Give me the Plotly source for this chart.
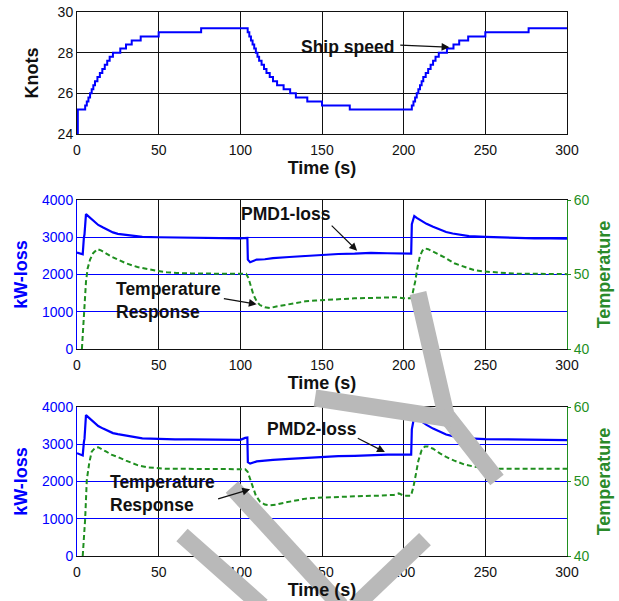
import plotly.graph_objects as go

# ---------------- data ----------------
speed = [(0, 24.0), (0.5, 25.2), (5, 25.4), (6, 25.6), (7, 25.8), (8, 26.0), (9, 26.2), (10, 26.4),
         (11, 26.6), (12.5, 26.8), (14, 27.0), (15.5, 27.2), (17, 27.4), (18.5, 27.6), (20, 27.8),
         (22, 28.0), (26.5, 28.2), (30, 28.4), (33.5, 28.6), (39, 28.8), (50, 29.0), (76, 29.2),
         (104.5, 29.0), (105.5, 28.8), (106.5, 28.6), (107.5, 28.4), (108.5, 28.2), (109.5, 28.0),
         (110.5, 27.8), (111.5, 27.6), (113, 27.4), (114.5, 27.2), (116, 27.0), (118, 26.8), (120, 26.6),
         (122.5, 26.4), (126.5, 26.2), (130.5, 26.0), (134, 25.8), (141, 25.6), (150, 25.4), (167, 25.2),
         (205, 25.4), (206, 25.6), (207, 25.8), (208, 26.0), (209, 26.2), (210, 26.4), (211, 26.6),
         (212, 26.8), (213.5, 27.0), (215, 27.2), (216.5, 27.4), (218, 27.6), (219.5, 27.8), (221.5, 28.0),
         (226.5, 28.2), (230.5, 28.4), (234, 28.6), (239.5, 28.8), (250, 29.0), (276.5, 29.2), (300, 29.2)]

pmd1_loss = [(0, 2590), (2, 2560), (3.5, 2540), (4.2, 2980), (4.6, 3080), (5.5, 3620), (7, 3560), (9, 3480),
             (11, 3400), (13, 3330), (16, 3260), (19, 3190), (22, 3130), (25, 3090), (30, 3060), (35, 3030),
             (40, 3010), (50, 3000), (60, 2990), (70, 2990), (80, 2980), (90, 2980), (100, 2970), (104.3, 2980),
             (104.6, 2400), (106, 2330), (110, 2400), (115, 2410), (120, 2440), (130, 2470), (140, 2500),
             (150, 2530), (160, 2550), (170, 2560), (180, 2580), (190, 2570), (200, 2560), (204.6, 2560),
             (205, 3350), (206.5, 3570), (208, 3520), (211, 3430), (214, 3360), (218, 3280), (222, 3200),
             (226, 3140), (230, 3100), (235, 3060), (240, 3030), (250, 3010), (260, 2990), (270, 2980),
             (280, 2970), (290, 2970), (300, 2960)]

temp1 = [(3, 40), (4.5, 45), (5.5, 49), (6.5, 50.8), (8, 52), (10, 52.9), (12.5, 53.4), (15, 53.2),
         (18, 52.8), (21, 52.4), (25, 52.0), (30, 51.5), (37, 51.0), (43, 50.7), (49, 50.5), (55, 50.3),
         (61, 50.2), (70, 50.15), (80, 50.1), (90, 50.1), (100, 50.1), (103.5, 50.1), (105, 49.5),
         (106.5, 48.3), (108, 47.3), (110, 46.4), (112, 45.9), (115, 45.6), (118, 45.5), (122, 45.7),
         (128, 45.95), (134, 46.2), (140, 46.4), (146, 46.5), (152, 46.6), (158, 46.6), (164, 46.7),
         (170, 46.8), (180, 46.85), (190, 46.9), (196, 46.95), (200, 46.8), (204, 46.8), (205.5, 47.5),
         (207, 49.0), (208.5, 51.0), (210, 52.5), (211.5, 53.2), (213, 53.5), (215, 53.4), (219, 53.0),
         (225, 52.3), (231, 51.5), (237, 51.0), (243, 50.6), (249, 50.4), (255, 50.3), (262, 50.2),
         (270, 50.1), (280, 50.1), (290, 50.05), (300, 50.05)]

pmd2_loss = [(0, 2760), (2, 2730), (3.5, 2700), (4.2, 3050), (4.6, 3150), (5.5, 3780), (7, 3720), (9, 3630),
             (11, 3550), (13, 3490), (16, 3420), (19, 3360), (22, 3300), (25, 3270), (30, 3230), (35, 3180),
             (40, 3160), (45, 3150), (50, 3140), (60, 3130), (70, 3130), (80, 3120), (90, 3120), (100, 3120),
             (103, 3170), (104.3, 3180), (104.6, 2520), (106, 2480), (110, 2540), (115, 2550), (120, 2580),
             (130, 2610), (140, 2640), (150, 2660), (160, 2680), (170, 2690), (180, 2710), (190, 2720),
             (200, 2720), (204.6, 2720), (205, 3400), (206.5, 3750), (208, 3700), (211, 3600), (214, 3520),
             (218, 3420), (222, 3330), (226, 3260), (230, 3220), (235, 3180), (240, 3160), (250, 3140),
             (260, 3130), (270, 3130), (280, 3120), (290, 3120), (300, 3110)]

temp2 = [(3.5, 40), (5, 45), (6, 50.2), (7.5, 52.5), (9, 54), (11, 54.5), (13, 54.6), (15, 54.4), (18, 54.0),
         (21, 53.6), (25, 53.3), (30, 52.8), (37, 52.2), (43, 51.9), (49, 51.8), (55, 51.7), (65, 51.7),
         (80, 51.7), (95, 51.7), (103, 51.65), (104.5, 51.3), (106, 50.3), (107.5, 49.3), (109.5, 48.1),
         (112, 47.3), (115, 46.9), (118, 46.8), (122, 46.9), (128, 47.2), (134, 47.5), (140, 47.7),
         (146, 47.8), (155, 47.9), (165, 48.0), (175, 48.05), (185, 48.1), (194, 48.2), (197, 48.4),
         (200, 48.1), (204.5, 48.1), (206, 49.3), (207.5, 51.0), (209, 52.8), (211, 54.2), (213, 54.7),
         (215, 54.7), (218, 54.4), (222, 53.8), (226, 53.3), (231, 52.8), (237, 52.3), (243, 52.0),
         (250, 51.8), (260, 51.7), (280, 51.7), (300, 51.7)]

time_ticks = [0, 50, 100, 150, 200, 250, 300]

# ---------------- styling ----------------
FONT = "Liberation Sans, Arial, sans-serif"
BLUE = "#0000ff"
GREEN = "#1f8f1f"
GREEN_T = "#2a8a2a"
BLACK = "#111111"
OFF = 0                      # page body margin removed via post_script
W, H = 619 - OFF, 601 - OFF
ML, MR, MT, MB = 77 - OFF, W - (567 - OFF), 12 - OFF, H - (556 - OFF)
PW, PH = W - ML - MR, H - MT - MB


def py(pix):
    return (H - MB - (pix - OFF)) / PH


def px(pix):
    return (pix - OFF - ML) / PW


def xy(pairs):
    return [p[0] for p in pairs], [p[1] for p in pairs]


fig = go.Figure()
x, y = xy(speed)
fig.add_trace(go.Scatter(x=x, y=y, mode="lines", line=dict(color=BLUE, width=2, shape="hv"),
                         xaxis="x", yaxis="y"))
x, y = xy(pmd1_loss)
fig.add_trace(go.Scatter(x=x, y=y, mode="lines", line=dict(color=BLUE, width=2.2),
                         xaxis="x2", yaxis="y2"))
x, y = xy(temp1)
fig.add_trace(go.Scatter(x=x, y=y, mode="lines", line=dict(color=GREEN, width=2, dash="5px,3px"),
                         xaxis="x2", yaxis="y3"))
x, y = xy(pmd2_loss)
fig.add_trace(go.Scatter(x=x, y=y, mode="lines", line=dict(color=BLUE, width=2.2),
                         xaxis="x3", yaxis="y4"))
x, y = xy(temp2)
fig.add_trace(go.Scatter(x=x, y=y, mode="lines", line=dict(color=GREEN, width=2, dash="5px,3px"),
                         xaxis="x3", yaxis="y5"))

tickfont = dict(family=FONT, size=14, color=BLACK)
title_font = dict(family=FONT, size=18, color=BLACK)


def xaxis_def(anchor):
    return dict(domain=[0, 1], anchor=anchor, range=[0, 300], tickvals=time_ticks, automargin=False,
                showgrid=True, gridcolor=BLACK, gridwidth=1, zeroline=False, ticklabelstandoff=3,
                ticklabeloverflow="allow",
                showline=True, linecolor=BLACK, linewidth=1, mirror=True, ticks="",
                tickfont=tickfont, title=dict(text="<b>Time (s)</b>", font=title_font, standoff=3))


top_dom = [py(134), 1.0]
mid_dom = [py(349), py(200)]
bot_dom = [0.0, py(407)]

layout = dict(
    width=W, height=H, margin=dict(l=ML, r=MR, t=MT, b=MB, autoexpand=False),
    paper_bgcolor="white", plot_bgcolor="white", showlegend=False,
    font=dict(family=FONT),
    xaxis=xaxis_def("y"),
    xaxis2=xaxis_def("y2"),
    xaxis3=xaxis_def("y4"),
    yaxis=dict(domain=top_dom, anchor="x", range=[24, 30], tickvals=[24, 26, 28, 30], automargin=False,
               showgrid=True, gridcolor=BLACK, gridwidth=1, zeroline=False, showline=True,
               ticklabeloverflow="allow",
               linecolor=BLACK, mirror=True, ticks="", tickfont=tickfont,
               title=dict(text="<b>Knots</b>", font=title_font, standoff=14)),
)
for ya, yb, dom, anchor in (("yaxis2", "yaxis3", mid_dom, "x2"), ("yaxis4", "yaxis5", bot_dom, "x3")):
    layout[ya] = dict(domain=dom, anchor=anchor, range=[0, 4000], tickvals=[0, 1000, 2000, 3000, 4000],
                      automargin=False, ticklabeloverflow="allow",
                      showgrid=True, gridcolor=BLUE, gridwidth=1, zeroline=False, showline=True,
                      linecolor=BLUE, mirror=False, ticks="", tickfont=dict(family=FONT, size=14, color=BLUE),
                      title=dict(text="<b>kW-loss</b>", font=dict(family=FONT, size=18, color=BLUE), standoff=9))
    layout[yb] = dict(overlaying=ya.replace("axis", ""), side="right", anchor=anchor, range=[40, 60],
                      tickvals=[40, 50, 60], showgrid=False, zeroline=False, showline=True, automargin=False,
                      ticklabeloverflow="allow",
                      linecolor=GREEN, ticks="outside", ticklen=3, tickcolor=GREEN,
                      tickfont=dict(family=FONT, size=14, color=GREEN),
                      title=dict(text="<b>Temperature</b>", font=dict(family=FONT, size=18, color=GREEN_T),
                                 standoff=8))

fig.update_layout(**layout)

ann_font = dict(family=FONT, size=17.5, color=BLACK)


def label(text, x, y, xref, yref, xanchor="center"):
    fig.add_annotation(text=f"<b>{text}</b>", x=x, y=y, xref=xref, yref=yref, showarrow=False,
                       font=ann_font, xanchor=xanchor, align="left")


def arrow(x, y, ax, ay, xref, yref):
    fig.add_annotation(text="", x=x, y=y, ax=ax, ay=ay, xref=xref, yref=yref, axref=xref, ayref=yref,
                       showarrow=True, arrowhead=2, arrowsize=1.3, arrowwidth=1.2, arrowcolor=BLACK)


label("Ship speed", 165.5, 28.28, "x", "y")
arrow(228, 28.27, 197, 28.37, "x", "y")

label("PMD1-loss", 128, 3625, "x2", "y2")
arrow(171.5, 2640, 155, 3350, "x2", "y2")
label("Temperature<br>Response", 22.5, 1290, "x2", "y2", xanchor="left")
arrow(110, 1200, 89, 1360, "x2", "y2")

label("PMD2-loss", 144, 3405, "x3", "y4")
arrow(188.5, 2790, 171, 3180, "x3", "y4")
label("Temperature<br>Response", 19, 1685, "x3", "y4", xanchor="left")
arrow(106, 1790, 85.5, 1520, "x3", "y4")

# ---------------- watermark stripes (gray overlay) ----------------
stripes = [
    [(418, 293), (446, 415), (497, 480)],
    [(315, 398), (452, 419)],
    [(182, 535), (262, 606)],
    [(232, 487), (341, 606)],
    [(425, 539), (355, 606)],
]
for pts in stripes:
    path = "M " + " L ".join(f"{px(a):.4f},{py(b):.4f}" for a, b in pts)
    fig.add_shape(type="path", path=path, xref="paper", yref="paper",
                  line=dict(color="#b9b9b9", width=17), layer="above")

fig.write_html("out.html", config={"displayModeBar": False},
               post_script="document.body.style.margin='0px';document.body.style.padding='0px';")
